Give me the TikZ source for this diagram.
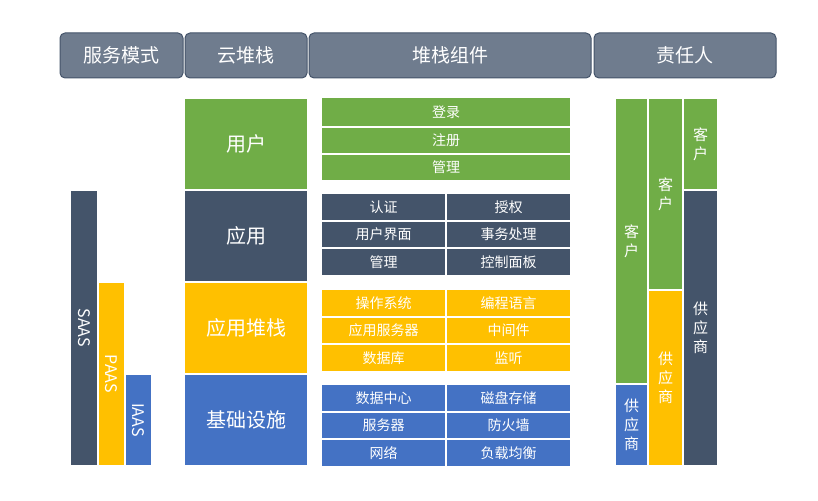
\documentclass[tikz,border=0pt]{standalone}
\usepackage{fontspec}
\setmainfont{Noto Sans CJK SC}
\definecolor{cgreen}{HTML}{70AD47}
\definecolor{cdark}{HTML}{44546A}
\definecolor{cyellow}{HTML}{FFC000}
\definecolor{cblue}{HTML}{4472C4}
\definecolor{chead}{HTML}{6F7C8E}
\tikzset{
  head/.style={draw=cdark,fill=chead,rounded corners=5pt,line width=1pt,text=white,font=\fontsize{19}{22}\selectfont,inner sep=0pt},
  blk/.style={draw=white,line width=1.2pt,text=white,inner sep=0pt,align=center},
  big/.style={blk,font=\fontsize{20}{24}\selectfont},
  small/.style={blk,font=\fontsize{14}{16}\selectfont},
  vert/.style={blk,font=\fontsize{15}{19}\selectfont}
}
% cell: name, x1, y1, x2, y2, style, text
\newcommand\cell[7]{%
  \pgfmathsetmacro\cw{(#4)-(#2)}\pgfmathsetmacro\ch{(#5)-(#3)}%
  \node[#6,minimum width=\cw pt,minimum height=\ch pt] (#1) at ({((#2)+(#4))/2},{((#3)+(#5))/2}) {#7};}
\begin{document}
\begin{tikzpicture}[x=1pt,y=-1pt]
\useasboundingbox (0,0) rectangle (818,500);
% headers
\cell{hmode}{60}{33}{183}{78}{head}{服务模式}
\cell{hstack}{185}{33}{307}{78}{head}{云堆栈}
\cell{hcomp}{309}{33}{591}{78}{head}{堆栈组件}
\cell{hresp}{594}{33}{776}{78}{head}{责任人}
% service models
\cell{saas}{70}{190}{98}{466}{blk,fill=cdark}{}
\cell{paas}{98}{282}{125}{466}{blk,fill=cyellow}{}
\cell{iaas}{125}{374}{152}{466}{blk,fill=cblue}{}
\node[rotate=-90,text=white,font=\fontsize{16}{18}\selectfont] at (84,328) {SAAS};
\node[rotate=-90,text=white,font=\fontsize{16}{18}\selectfont] at (111,374) {PAAS};
\node[rotate=-90,text=white,font=\fontsize{16}{18}\selectfont] at (138,420) {IAAS};
% cloud stack
\cell{user}{184}{98}{308}{190}{big,fill=cgreen}{用户}
\cell{app}{184}{190}{308}{282}{big,fill=cdark}{应用}
\cell{appstack}{184}{282}{308}{374}{big,fill=cyellow}{应用堆栈}
\cell{infra}{184}{374}{308}{466}{big,fill=cblue}{基础设施}
% components
\cell{c1}{321}{97}{571}{127}{small,fill=cgreen}{登录}
\cell{c2}{321}{127}{571}{154}{small,fill=cgreen}{注册}
\cell{c3}{321}{154}{571}{181}{small,fill=cgreen}{管理}
\foreach \y/\c/\a/\b/\d/\e/\f/\g in {193/cdark/认证/授权/用户界面/事务处理/管理/控制面板,
  289/cyellow/操作系统/编程语言/应用服务器/中间件/数据库/监听,
  384/cblue/数据中心/磁盘存储/服务器/防火墙/网络/负载均衡}{
  \cell{r1\y}{321}{\y}{446}{\y+28}{small,fill=\c}{\a}
  \cell{s1\y}{446}{\y}{571}{\y+28}{small,fill=\c}{\b}
  \cell{r2\y}{321}{\y+28}{446}{\y+55}{small,fill=\c}{\d}
  \cell{s2\y}{446}{\y+28}{571}{\y+55}{small,fill=\c}{\e}
  \cell{r3\y}{321}{\y+55}{446}{\y+83}{small,fill=\c}{\f}
  \cell{s3\y}{446}{\y+55}{571}{\y+83}{small,fill=\c}{\g}
}
% responsibility
\cell{g1}{615}{98}{648}{384}{vert,fill=cgreen}{客\\户}
\cell{b1}{615}{384}{648}{466}{vert,fill=cblue}{供\\应\\商}
\cell{g2}{648}{98}{683}{290}{vert,fill=cgreen}{客\\户}
\cell{y2}{648}{290}{683}{466}{vert,fill=cyellow}{供\\应\\商}
\cell{g3}{683}{98}{718}{190}{vert,fill=cgreen}{客\\户}
\cell{d3}{683}{190}{718}{466}{vert,fill=cdark}{供\\应\\商}
\end{tikzpicture}
\end{document}
